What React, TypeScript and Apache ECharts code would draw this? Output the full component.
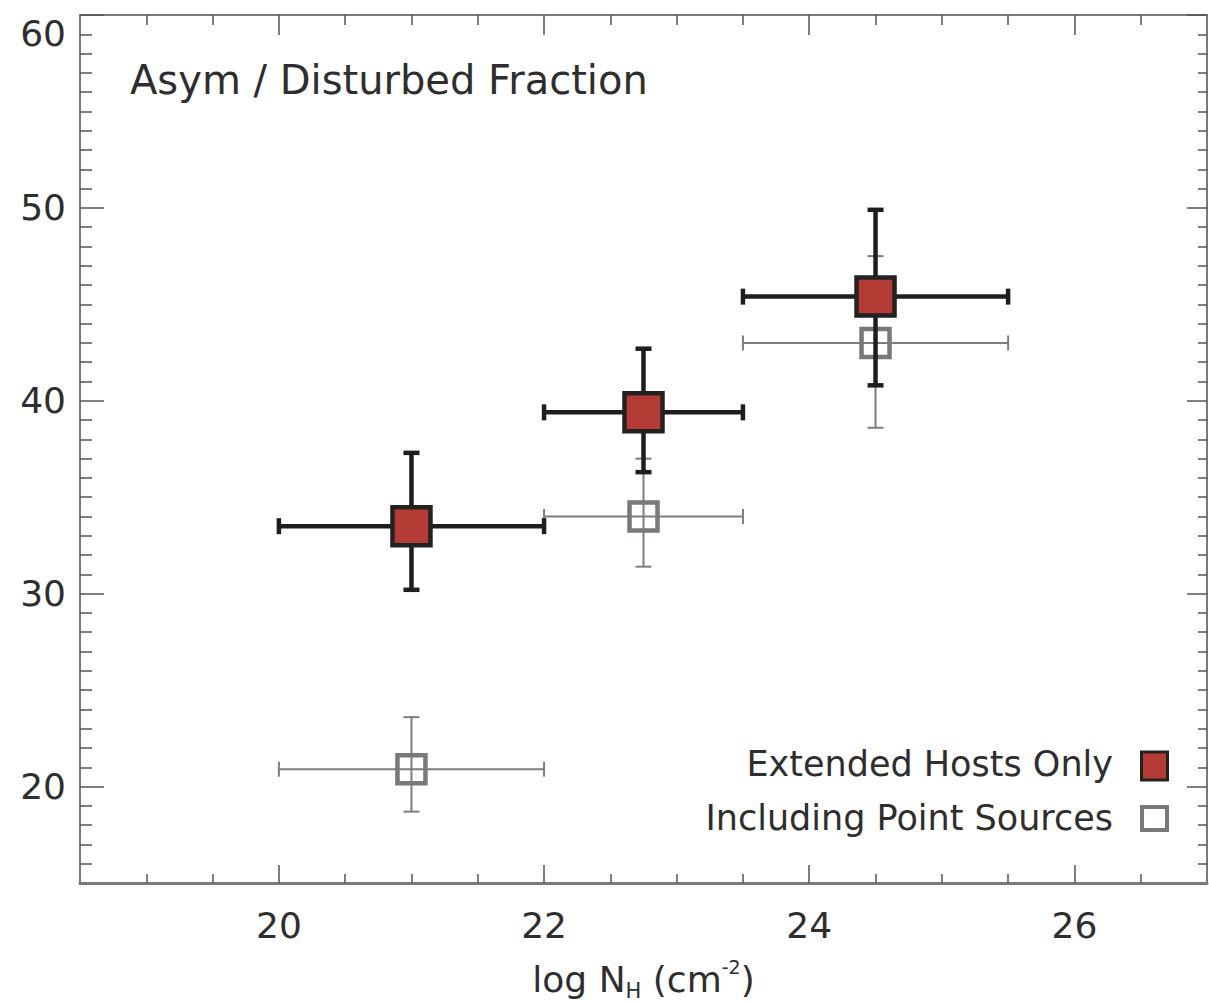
import React, { useEffect, useRef } from 'react';
import * as echarts from 'echarts';

const FONT = '"DejaVu Sans", sans-serif';
const TEXT = '#2e2e2e';
const FRAME = '#7a7a7a';
const TICK = '#555555';

// Tick positions
const xMajorTicks = [20, 22, 24, 26];
const xMinorTicks = [19, 19.5, 20.5, 21, 21.5, 22.5, 23, 23.5, 24.5, 25, 25.5, 26.5];
const yMajorTicks = [20, 30, 40, 50, 60];
const yMinorTicks = [
  16, 17, 18, 19, 21, 22, 23, 24, 25, 26, 27, 28, 29, 31, 32, 33, 34, 35, 36, 37, 38, 39,
  41, 42, 43, 44, 45, 46, 47, 48, 49, 51, 52, 53, 54, 55, 56, 57, 58, 59,
];

// Bins in log N_H
const binCenters = [21, 22.75, 24.5];
const binLow = [20, 22, 23.5];
const binHigh = [22, 23.5, 25.5];

// Extended hosts only
const extendedFrac = [33.5, 39.4, 45.4];
const extendedLow = [30.2, 36.3, 40.8];
const extendedHigh = [37.3, 42.7, 49.9];

// Including point sources
const inclFrac = [20.9, 34.0, 43.0];
const inclLow = [18.7, 31.4, 38.6];
const inclHigh = [23.6, 37.0, 47.5];

const legendNames = ['Extended Hosts Only', 'Including Point Sources'];
const titleText = 'Asym / Disturbed Fraction';

function errRender(color: string, width: number, capX: number, capY: number) {
  return (params: any, api: any) => {
    const x = api.value(0);
    const y = api.value(1);
    const c = api.coord([x, y]);
    const l = api.coord([api.value(2), y]);
    const r = api.coord([api.value(3), y]);
    const lo = api.coord([x, api.value(4)]);
    const hi = api.coord([x, api.value(5)]);
    const style = { stroke: color, lineWidth: width, fill: null, lineCap: 'butt' };
    const ln = (x1: number, y1: number, x2: number, y2: number) => ({
      type: 'line',
      shape: { x1, y1, x2, y2 },
      style,
    });
    return {
      type: 'group',
      children: [
        ln(l[0], c[1], r[0], c[1]),
        ln(l[0], c[1] - capX, l[0], c[1] + capX),
        ln(r[0], c[1] - capX, r[0], c[1] + capX),
        ln(c[0], lo[1], c[0], hi[1]),
        ln(c[0] - capY, lo[1], c[0] + capY, lo[1]),
        ln(c[0] - capY, hi[1], c[0] + capY, hi[1]),
      ],
    };
  };
}

export default function App() {
  const ref = useRef<HTMLDivElement>(null);
  useEffect(() => {
    document.body.style.margin = '0';
    const chart = echarts.init(ref.current!, null, { renderer: 'svg' });

    const extData = binCenters.map((x, i) => [x, extendedFrac[i], binLow[i], binHigh[i], extendedLow[i], extendedHigh[i]]);
    const inclData = binCenters.map((x, i) => [x, inclFrac[i], binLow[i], binHigh[i], inclLow[i], inclHigh[i]]);

    const labelStyle = { fontFamily: FONT, fontSize: 36, color: TEXT };
    const xBase = { type: 'value', min: 18.5, max: 27, splitLine: { show: false } };
    const yBase = { type: 'value', min: 15, max: 60, splitLine: { show: false } };

    const option: any = {
      animation: false,
      backgroundColor: '#ffffff',
      grid: { left: 80, top: 15, width: 1127, height: 868, containLabel: false, outerBoundsMode: 'none' },
      xAxis: [
        {
          ...xBase,
          position: 'bottom',
          axisLine: { show: true, onZero: false, lineStyle: { color: FRAME, width: 3 } },
          axisTick: { show: true, inside: true, length: 18, customValues: xMajorTicks, lineStyle: { color: TICK, width: 1.5 } },
          axisLabel: { show: true, customValues: xMajorTicks, margin: 24, ...labelStyle },
          name: '{a|log N}{sub|H}{a| (cm}{sup|-2}{a|)}',
          nameLocation: 'middle',
          nameGap: 74,
          nameTextStyle: {
            rich: {
              a: { fontFamily: FONT, fontSize: 36, color: TEXT, lineHeight: 44 },
              sub: { fontFamily: FONT, fontSize: 21, color: TEXT, lineHeight: 20, verticalAlign: 'bottom' },
              sup: { fontFamily: FONT, fontSize: 19, color: TEXT, lineHeight: 18, verticalAlign: 'top' },
            },
          },
        },
        {
          ...xBase,
          position: 'bottom',
          axisLine: { show: false, onZero: false },
          axisTick: { show: true, inside: true, length: 9, customValues: xMinorTicks, lineStyle: { color: TICK, width: 1.5 } },
          axisLabel: { show: false },
        },
        {
          ...xBase,
          position: 'top',
          axisLine: { show: true, onZero: false, lineStyle: { color: FRAME, width: 2 } },
          axisTick: { show: true, inside: true, length: 20, customValues: xMajorTicks, lineStyle: { color: TICK, width: 1.5 } },
          axisLabel: { show: false },
        },
        {
          ...xBase,
          position: 'top',
          axisLine: { show: false, onZero: false },
          axisTick: { show: true, inside: true, length: 10, customValues: xMinorTicks, lineStyle: { color: TICK, width: 1.5 } },
          axisLabel: { show: false },
        },
      ],
      yAxis: [
        {
          ...yBase,
          position: 'left',
          axisLine: { show: true, onZero: false, lineStyle: { color: FRAME, width: 2 } },
          axisTick: { show: true, inside: true, length: 24, customValues: yMajorTicks, lineStyle: { color: TICK, width: 1.5 } },
          axisLabel: {
            show: true,
            customValues: yMajorTicks,
            margin: 14,
            verticalAlignMaxLabel: 'top',
            ...labelStyle,
          },
        },
        {
          ...yBase,
          position: 'left',
          axisLine: { show: false, onZero: false },
          axisTick: { show: true, inside: true, length: 12, customValues: yMinorTicks, lineStyle: { color: TICK, width: 1.5 } },
          axisLabel: { show: false },
        },
        {
          ...yBase,
          position: 'right',
          axisLine: { show: true, onZero: false, lineStyle: { color: FRAME, width: 2 } },
          axisTick: { show: true, inside: true, length: 20, customValues: yMajorTicks, lineStyle: { color: TICK, width: 1.5 } },
          axisLabel: { show: false },
        },
        {
          ...yBase,
          position: 'right',
          axisLine: { show: false, onZero: false },
          axisTick: { show: true, inside: true, length: 9, customValues: yMinorTicks, lineStyle: { color: TICK, width: 1.5 } },
          axisLabel: { show: false },
        },
      ],
      series: [
        {
          type: 'custom',
          name: legendNames[1] + ' errors',
          xAxisIndex: 0,
          yAxisIndex: 0,
          renderItem: errRender('#7d7d7d', 2, 7.5, 8),
          encode: { x: [0, 2, 3], y: [1, 4, 5] },
          data: inclData,
          clip: false,
          z: 2,
        },
        {
          type: 'scatter',
          name: legendNames[1],
          xAxisIndex: 0,
          yAxisIndex: 0,
          symbol: 'rect',
          symbolSize: 28,
          itemStyle: { color: 'rgba(0,0,0,0)', borderColor: '#767a7a', borderWidth: 4.5, opacity: 1 },
          data: binCenters.map((x, i) => [x, inclFrac[i]]),
          z: 3,
        },
        {
          type: 'custom',
          name: legendNames[0] + ' errors',
          xAxisIndex: 0,
          yAxisIndex: 0,
          renderItem: errRender('#1e1e1e', 4.5, 8, 8),
          encode: { x: [0, 2, 3], y: [1, 4, 5] },
          data: extData,
          clip: false,
          z: 4,
        },
        {
          type: 'scatter',
          name: legendNames[0],
          xAxisIndex: 0,
          yAxisIndex: 0,
          symbol: 'rect',
          symbolSize: 38,
          itemStyle: { color: '#b43b33', borderColor: '#222222', borderWidth: 4.5, opacity: 1 },
          data: binCenters.map((x, i) => [x, extendedFrac[i]]),
          z: 5,
        },
      ],
      graphic: [
        {
          type: 'text',
          x: 130,
          y: 80,
          style: {
            text: titleText,
            fontFamily: FONT,
            fontSize: 40,
            fill: TEXT,
            align: 'left',
            verticalAlign: 'middle',
            textAlign: 'left',
            textVerticalAlign: 'middle',
          },
        },
        {
          type: 'text',
          x: 1113,
          y: 764,
          style: {
            text: legendNames[0],
            fontFamily: FONT,
            fontSize: 35,
            fill: TEXT,
            align: 'right',
            verticalAlign: 'middle',
            textAlign: 'right',
            textVerticalAlign: 'middle',
          },
        },
        {
          type: 'text',
          x: 1113,
          y: 818,
          style: {
            text: legendNames[1],
            fontFamily: FONT,
            fontSize: 35,
            fill: TEXT,
            align: 'right',
            verticalAlign: 'middle',
            textAlign: 'right',
            textVerticalAlign: 'middle',
          },
        },
        {
          type: 'rect',
          shape: { x: 1141.5, y: 752, width: 26, height: 28 },
          style: { fill: '#b43b33', stroke: '#222222', lineWidth: 3 },
        },
        {
          type: 'rect',
          shape: { x: 1142, y: 807, width: 25, height: 23 },
          style: { fill: '#ffffff', stroke: '#767a7a', lineWidth: 4 },
        },
      ],
    };
    chart.setOption(option);
    return () => chart.dispose();
  }, []);
  return <div ref={ref} style={{ width: 1209, height: 1003 }} />;
}
